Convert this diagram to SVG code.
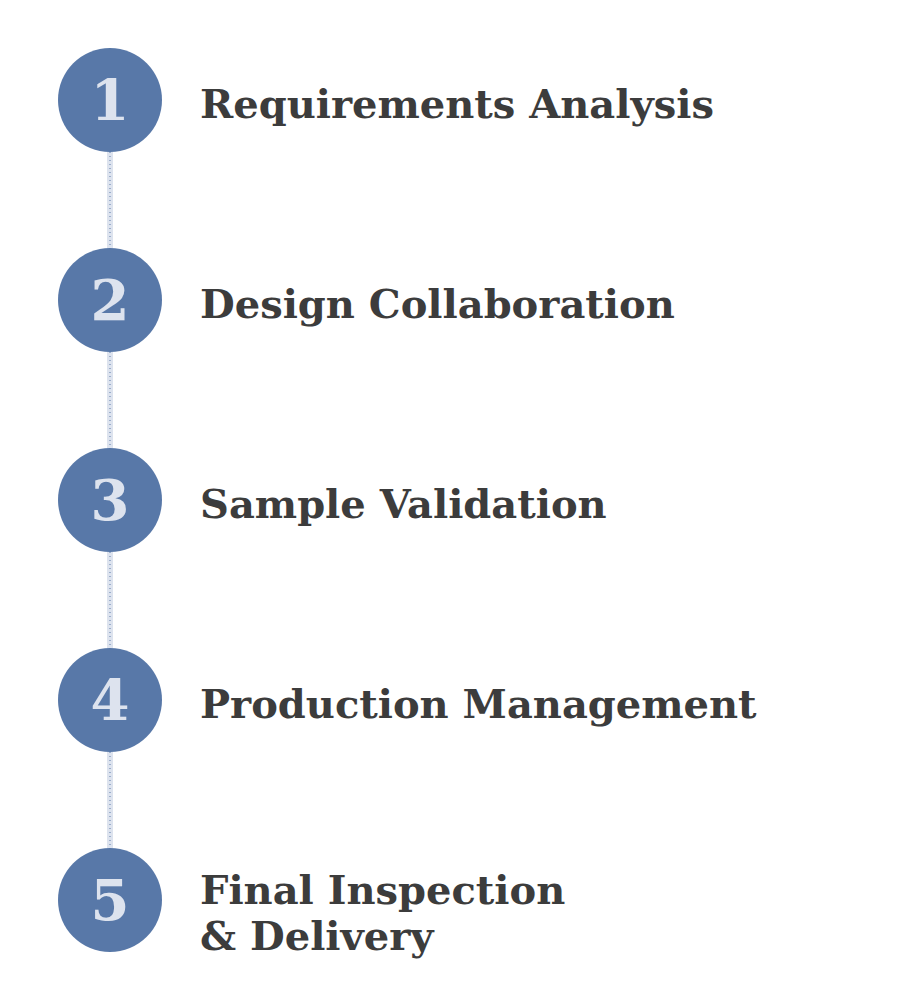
<svg xmlns="http://www.w3.org/2000/svg" width="900" height="1000" viewBox="0 0 900 1000">
<style>
.band{stroke:#dde3ee;stroke-width:6;fill:none}
.dots{stroke:#5b79a8;stroke-width:1;stroke-dasharray:1 3;fill:none}
.c{fill:#5878a8}
.num{font-family:"DejaVu Serif",serif;font-weight:bold;font-size:56px;fill:#dde3ee;text-anchor:middle}
.lbl{font-family:"DejaVu Serif",serif;font-weight:bold;font-size:40px;fill:#3c3c3c}
</style>
<rect width="900" height="1000" fill="#ffffff"/>
<g id="connectors">
<line class="band" x1="110" y1="150" x2="110" y2="250"/><line class="dots" x1="110" y1="152" x2="110" y2="248"/>
<line class="band" x1="110" y1="350" x2="110" y2="450"/><line class="dots" x1="110" y1="352" x2="110" y2="448"/>
<line class="band" x1="110" y1="550" x2="110" y2="650"/><line class="dots" x1="110" y1="552" x2="110" y2="648"/>
<line class="band" x1="110" y1="750" x2="110" y2="850"/><line class="dots" x1="110" y1="752" x2="110" y2="848"/>
</g>
<g id="step1"><circle class="c" cx="110" cy="100" r="52"/><text class="num" x="110" y="120">1</text><text class="lbl" x="200" y="118">Requirements Analysis</text></g>
<g id="step2"><circle class="c" cx="110" cy="300" r="52"/><text class="num" x="110" y="320">2</text><text class="lbl" x="200" y="318">Design Collaboration</text></g>
<g id="step3"><circle class="c" cx="110" cy="500" r="52"/><text class="num" x="110" y="520">3</text><text class="lbl" x="200" y="518">Sample Validation</text></g>
<g id="step4"><circle class="c" cx="110" cy="700" r="52"/><text class="num" x="110" y="720">4</text><text class="lbl" x="200" y="718">Production Management</text></g>
<g id="step5"><circle class="c" cx="110" cy="900" r="52"/><text class="num" x="110" y="920">5</text><text class="lbl" x="200" y="904">Final Inspection</text><text class="lbl" x="200" y="950">&amp; Delivery</text></g>
</svg>
